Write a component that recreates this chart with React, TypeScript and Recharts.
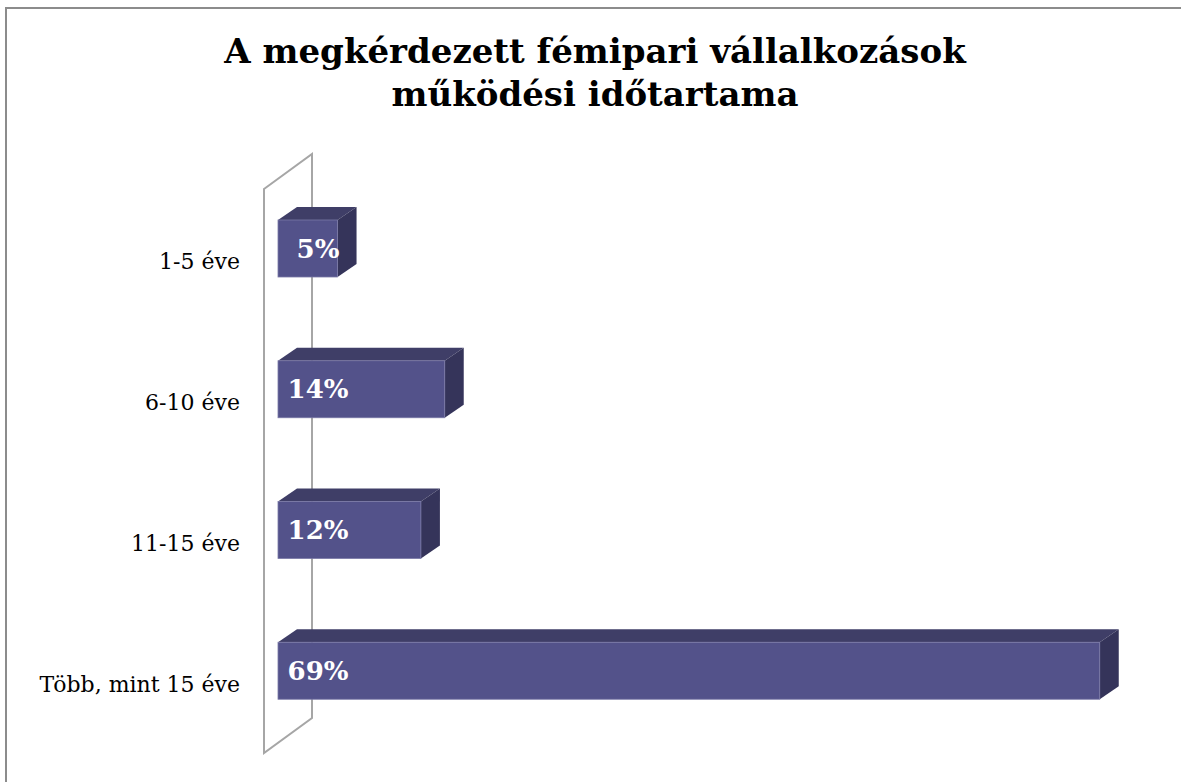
import React from 'react';
import { BarChart, Bar, XAxis, YAxis, LabelList, Customized } from 'recharts';

const categories = ['1-5 éve', '6-10 éve', '11-15 éve', 'Több, mint 15 éve'];
const shares = [5, 14, 12, 69];
const valueLabels = ['5%', '14%', '12%', '69%'];

const data = categories.map((name, i) => ({ name, value: shares[i], label: valueLabels[i] }));

const W = 1181;
const H = 782;
const margin = { top: 178, right: 61, bottom: 41, left: 0 };
const axisWidth = 278;
const DX = 19;
const DY = 13;

const FRONT = '#53528a';
const TOP = '#3f3e67';
const SIDE = '#35345a';
const SERIF = '"DejaVu Serif", serif';

// 3D box for each bar
const Box3D = (props: any) => {
  const { x, y, width, height } = props;
  if (!width || width <= 0) return null;
  return (
    <g>
      <polygon
        points={`${x},${y} ${x + DX},${y - DY} ${x + width + DX},${y - DY} ${x + width},${y}`}
        fill={TOP}
      />
      <polygon
        points={`${x + width},${y} ${x + width + DX},${y - DY} ${x + width + DX},${y + height - DY} ${x + width},${y + height}`}
        fill={SIDE}
      />
      <rect x={x} y={y} width={width} height={height} fill={FRONT} stroke="#7a79a6" strokeWidth={0.8} />
    </g>
  );
};

// back wall of the 3D plot
const Wall = () => {
  const left = axisWidth + margin.left;
  const top = margin.top;
  const bottom = H - margin.bottom;
  const fx = left - 14;
  const bx = left + 34;
  return (
    <polygon
      points={`${fx},${top + 11} ${bx},${top - 24} ${bx},${bottom - 23} ${fx},${bottom + 12}`}
      fill="none"
      stroke="#a6a6a6"
      strokeWidth={2}
    />
  );
};

const CategoryTick = (props: any) => {
  const { x, y, payload } = props;
  return (
    <text x={x} y={y} dy={21} textAnchor="end" fontFamily={SERIF} fontSize={22} fill="#000">
      {payload.value}
    </text>
  );
};

const ValueLabel = (props: any) => {
  const { x, y, height, value } = props;
  return (
    <text
      x={x + 40}
      y={y + height / 2}
      dy={9}
      textAnchor="middle"
      fontFamily={SERIF}
      fontWeight="bold"
      fontSize={26}
      fill="#fff"
    >
      {value}
    </text>
  );
};

export default function App() {
  return (
    <div style={{ position: 'absolute', left: 0, top: 0, width: W, height: H, background: '#fff', overflow: 'hidden' }}>
      <div
        style={{
          position: 'absolute',
          left: 5,
          top: 7,
          width: W + 20,
          height: H + 20,
          borderTop: '2px solid #8c8c8c',
          borderLeft: '2px solid #8c8c8c',
        }}
      />
      <div
        style={{
          position: 'absolute',
          left: 0,
          top: 30,
          width: 1190,
          textAlign: 'center',
          fontFamily: SERIF,
          fontWeight: 'bold',
          fontSize: 34,
          lineHeight: '43px',
          color: '#000',
        }}
      >
        A megkérdezett fémipari vállalkozások
        <br />
        működési időtartama
      </div>
      <div style={{ position: 'absolute', left: 0, top: 0 }}>
        <BarChart width={W} height={H} data={data} layout="vertical" margin={margin} barSize={57}>
          <Customized component={Wall} />
          <XAxis type="number" domain={[0, 70.7]} hide />
          <YAxis
            type="category"
            dataKey="name"
            width={axisWidth}
            axisLine={false}
            tickLine={false}
            tickSize={0}
            tickMargin={38}
            tick={<CategoryTick />}
          />
          <Bar dataKey="value" shape={<Box3D />} isAnimationActive={false}>
            <LabelList dataKey="label" content={<ValueLabel />} />
          </Bar>
        </BarChart>
      </div>
    </div>
  );
}
